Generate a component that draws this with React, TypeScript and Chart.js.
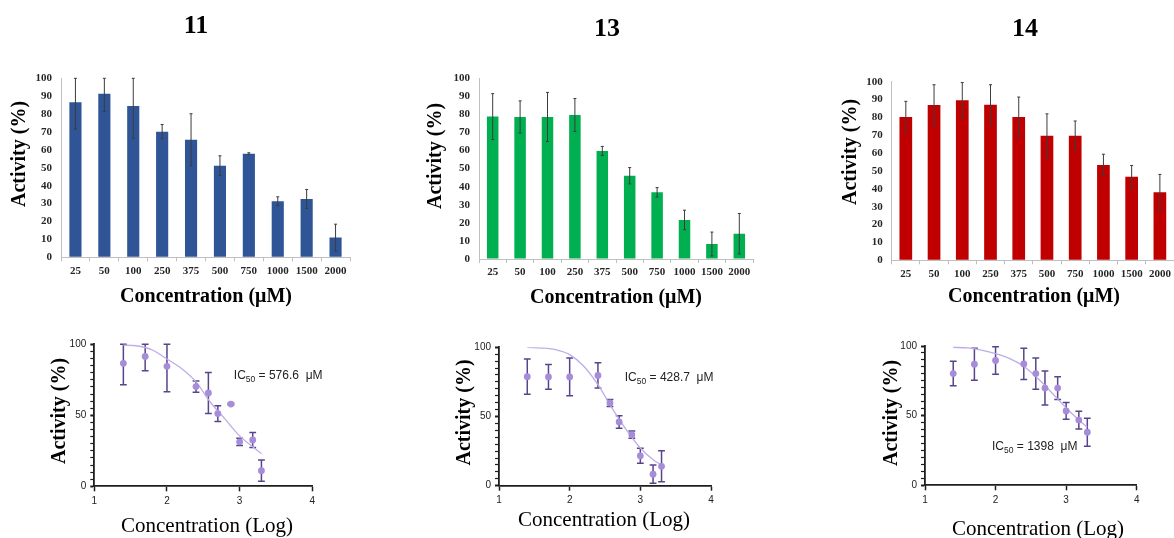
import React, { useEffect, useRef } from 'react';
import { Chart, registerables } from 'chart.js';

Chart.register(...registerables);

// ---------------- DATA ----------------
const compoundNames = ['11', '13', '14'];
const concentrations = ['25', '50', '100', '250', '375', '500', '750', '1000', '1500', '2000'];
const logConcentrations = [1.40, 1.70, 2.00, 2.40, 2.57, 2.70, 2.88, 3.00, 3.18, 3.30];

const activity11 = [86.6, 91.4, 84.5, 70.2, 65.7, 51.2, 57.9, 31.3, 32.6, 11.0];
const sd11 = [15.0, 10.0, 18.0, 4.0, 14.5, 5.5, 0.5, 2.5, 5.3, 7.5];

const activity13 = [78.8, 78.6, 78.6, 79.7, 59.8, 46.1, 36.9, 21.6, 8.3, 14.0];
const sd13 = [12.7, 8.9, 13.6, 9.1, 2.5, 4.5, 2.6, 5.4, 6.6, 11.2];

const activity14 = [80.2, 86.9, 89.6, 87.1, 80.2, 69.8, 69.8, 53.4, 46.8, 38.1];
const sd14 = [8.8, 11.4, 9.9, 11.2, 11.2, 12.2, 8.2, 6.0, 6.3, 10.0];

// fitted dose-response curves
const curveLogX = [1.4, 1.6, 1.8, 2.0, 2.2, 2.4, 2.6, 2.8, 3.0, 3.2, 3.3];
const curve11 = [99.5, 98.8, 96.0, 89.6, 83.0, 73.5, 59.0, 47.3, 35.5, 27.0, 23.0];
const curve13 = [100.0, 99.5, 98.3, 94.7, 86.3, 73.0, 56.0, 40.5, 27.2, 18.0, 15.2];
const curve14 = [99.0, 98.6, 97.0, 94.5, 90.9, 85.4, 76.6, 66.3, 55.5, 46.0, 41.6];

const ic50Values = ['576.6', '428.7', '1398'];

const barTitle = 'Concentration (μM)';
const logTitle = 'Concentration (Log)';
const yTitle = 'Activity (%)';

// ---------------- LAYOUT / STYLE ----------------
const SERIF = "'Liberation Serif', 'Times New Roman', Times, serif";
const SANS = "'Liberation Sans', Arial, Helvetica, sans-serif";

const barPanels = [
  { x: 0, y: 0, w: 400, h: 320, area: [61, 78.3, 350, 257.3], title: [196, 26], yT: [19.5, 154], xT: [206, 297], color: '#2F5597', pct: 0.42 },
  { x: 400, y: 0, w: 410, h: 320, area: [479, 78.3, 753, 259], title: [607, 29], yT: [436, 156], xT: [616, 298], color: '#00B050', pct: 0.42 },
  { x: 810, y: 0, w: 364, h: 320, area: [891.7, 81.7, 1174, 260.3], title: [1025, 29], yT: [851, 152], xT: [1034, 297], color: '#C00000', pct: 0.45 },
];

const logPanels = [
  { x: 0, y: 320, w: 400, h: 218, area: [94.3, 344.3, 312.3, 486.3], yT: [60, 411], xT: [207, 526], ic: [2.92, 75.4] },
  { x: 400, y: 320, w: 410, h: 218, area: [499, 347.3, 711, 485.7], yT: [465, 412.5], xT: [604, 520], ic: [2.78, 75.9] },
  { x: 810, y: 320, w: 364, h: 218, area: [925, 346, 1136.7, 485.3], yT: [891.7, 413], xT: [1038, 529], ic: [1.95, 25.6] },
];

const POINT = 'rgb(167,140,218)';
const ERR_LOG = 'rgb(88,68,140)';
const CURVE = 'rgb(190,172,232)';
const AXIS_DARK = '#1e1e1e';
const AXIS_GRAY = '#bfbfbf';

// ---------------- PLUGINS ----------------
const textPlugin = {
  id: 'panelTexts',
  afterDraw(chart: any, _a: any, opts: any) {
    const items = opts.items || [];
    const ctx = chart.ctx;
    for (let i = 0; i < items.length; i++) {
      const it = items[i];
      ctx.save();
      ctx.translate(it.x, it.y);
      if (it.rotate) ctx.rotate(it.rotate);
      ctx.font = it.font;
      ctx.fillStyle = it.color || '#000';
      ctx.textAlign = 'center';
      ctx.textBaseline = 'middle';
      ctx.fillText(it.text, 0, 0);
      ctx.restore();
    }
  },
};

function drawErrors(chart: any, opts: any) {
  const meta = chart.getDatasetMeta(0);
  const ds = chart.data.datasets[0];
  const yScale = chart.scales.y;
  const ctx = chart.ctx;
  ctx.save();
  ctx.strokeStyle = opts.color;
  ctx.lineWidth = opts.width;
  meta.data.forEach((el: any, i: number) => {
    const raw = ds.data[i];
    const v = typeof raw === 'number' ? raw : raw.y;
    const sd = opts.sd[i];
    const top = yScale.getPixelForValue(Math.min(v + sd, opts.max));
    const bot = yScale.getPixelForValue(Math.max(v - sd, 0));
    const x = el.x;
    const c = opts.cap;
    ctx.beginPath();
    ctx.moveTo(x, top);
    ctx.lineTo(x, bot);
    ctx.moveTo(x - c, top);
    ctx.lineTo(x + c, top);
    ctx.moveTo(x - c, bot);
    ctx.lineTo(x + c, bot);
    ctx.stroke();
  });
  ctx.restore();
}

const errorBarPlugin = {
  id: 'errorBars',
  beforeDatasetsDraw(chart: any, _a: any, opts: any) {
    if (opts.layer === 'below') drawErrors(chart, opts);
  },
  afterDatasetsDraw(chart: any, _a: any, opts: any) {
    if (opts.layer !== 'below') drawErrors(chart, opts);
  },
};

const icPlugin = {
  id: 'icLabel',
  afterDraw(chart: any, _a: any, opts: any) {
    if (!opts.value) return;
    const ctx = chart.ctx;
    const x = chart.scales.x.getPixelForValue(opts.x);
    const y = chart.scales.y.getPixelForValue(opts.y);
    ctx.save();
    ctx.fillStyle = '#222';
    ctx.textAlign = 'left';
    ctx.textBaseline = 'alphabetic';
    ctx.font = `12px ${SANS}`;
    ctx.fillText('IC', x, y);
    let w = ctx.measureText('IC').width;
    ctx.font = `8.5px ${SANS}`;
    ctx.fillText('50', x + w, y + 3);
    w += ctx.measureText('50').width;
    ctx.font = `12px ${SANS}`;
    ctx.fillText(` = ${opts.value}  μM`, x + w, y);
    ctx.restore();
  },
};

// ---------------- CONFIGS ----------------
function barConfig(p: any, values: number[], sds: number[], name: string) {
  const l = p.area[0] - p.x;
  const t = p.area[1] - p.y;
  const r = p.area[2] - p.x;
  const b = p.area[3] - p.y;
  const tickFont = { family: SERIF, size: 11, weight: 'bold' as const };
  return {
    type: 'bar' as const,
    data: {
      labels: concentrations,
      datasets: [
        {
          data: values,
          backgroundColor: p.color,
          borderWidth: 0,
          categoryPercentage: 1,
          barPercentage: p.pct,
        },
      ],
    },
    options: {
      responsive: false,
      animation: false as const,
      devicePixelRatio: 1,
      layout: { padding: { left: 0, top: t, right: p.w - r, bottom: 0 } },
      plugins: {
        legend: { display: false },
        tooltip: { enabled: false },
        errorBars: { sd: sds, color: '#3c3c3c', width: 1, cap: 1.5, max: 100, layer: 'above' },
        panelTexts: {
          items: [
            { text: name, x: p.title[0] - p.x, y: p.title[1] - p.y, font: `bold 26px ${SERIF}` },
            { text: yTitle, x: p.yT[0] - p.x, y: p.yT[1] - p.y, rotate: -Math.PI / 2, font: `bold 20px ${SERIF}` },
            { text: barTitle, x: p.xT[0] - p.x, y: p.xT[1] - p.y, font: `bold 20px ${SERIF}` },
          ],
        },
      },
      scales: {
        x: {
          grid: { display: true, drawOnChartArea: false, drawTicks: true, tickLength: 4, color: AXIS_GRAY, offset: true },
          border: { display: true, color: AXIS_GRAY, width: 1 },
          ticks: { font: tickFont, color: '#262626', padding: 3, maxRotation: 0, autoSkip: false },
          afterFit: (s: any) => { s.height = p.h - b; },
        },
        y: {
          min: 0,
          max: 100,
          ticks: { stepSize: 10, font: tickFont, color: '#262626', padding: 9 },
          grid: { display: true, drawOnChartArea: false, drawTicks: false },
          border: { display: true, color: AXIS_GRAY, width: 1 },
          afterFit: (s: any) => { s.width = l; },
        },
      },
    },
    plugins: [errorBarPlugin, textPlugin],
  };
}

function logConfig(p: any, values: number[], sds: number[], curve: number[], ic: string) {
  const l = p.area[0] - p.x;
  const t = p.area[1] - p.y;
  const r = p.area[2] - p.x;
  const b = p.area[3] - p.y;
  const tickFont = { family: SANS, size: 10 };
  return {
    type: 'scatter' as const,
    data: {
      datasets: [
        {
          data: logConcentrations.map((x, i) => ({ x, y: values[i] })),
          pointRadius: 3.4,
          pointBackgroundColor: POINT,
          pointBorderColor: POINT,
          pointBorderWidth: 0,
          showLine: false,
        },
        {
          data: curveLogX.map((x, i) => ({ x, y: curve[i] })),
          showLine: true,
          pointRadius: 0,
          borderColor: CURVE,
          borderWidth: 1.3,
          cubicInterpolationMode: 'monotone' as const,
          fill: false,
        },
      ],
    },
    options: {
      responsive: false,
      animation: false as const,
      devicePixelRatio: 1,
      layout: { padding: { left: 0, top: t, right: p.w - r, bottom: 0 } },
      plugins: {
        legend: { display: false },
        tooltip: { enabled: false },
        errorBars: { sd: sds, color: ERR_LOG, width: 1.5, cap: 3.4, max: 100, layer: 'below' },
        icLabel: { x: p.ic[0], y: p.ic[1], value: ic },
        panelTexts: {
          items: [
            { text: yTitle, x: p.yT[0] - p.x, y: p.yT[1] - p.y, rotate: -Math.PI / 2, font: `bold 20px ${SERIF}` },
            { text: logTitle, x: p.xT[0] - p.x, y: p.xT[1] - p.y, font: `21px ${SERIF}` },
          ],
        },
      },
      scales: {
        x: {
          type: 'linear' as const,
          min: 1,
          max: 4,
          ticks: { stepSize: 1, font: tickFont, color: '#222', padding: 4 },
          grid: { display: true, drawOnChartArea: false, drawTicks: true, tickLength: 5, color: AXIS_DARK, tickWidth: 1.5 },
          border: { display: true, color: AXIS_DARK, width: 1.8 },
          afterFit: (s: any) => { s.height = p.h - b; },
        },
        y: {
          min: 0,
          max: 100,
          ticks: {
            stepSize: 5,
            autoSkip: false,
            font: tickFont,
            color: '#222',
            padding: 4,
            callback: (v: any) => (Number(v) % 50 === 0 ? String(v) : ''),
          },
          grid: {
            display: true,
            drawOnChartArea: false,
            drawTicks: true,
            tickLength: 4,
            color: AXIS_DARK,
            tickWidth: (c: any) => (c.tick && c.tick.value % 50 === 0 ? 2 : 1.2),
          },
          border: { display: true, color: AXIS_DARK, width: 1.8 },
          afterFit: (s: any) => { s.width = l; },
        },
      },
    },
    plugins: [errorBarPlugin, icPlugin, textPlugin],
  };
}

const allPanels = [...barPanels, ...logPanels];

export default function App() {
  const refs = useRef<(HTMLCanvasElement | null)[]>([]);

  useEffect(() => {
    const values = [activity11, activity13, activity14];
    const sds = [sd11, sd13, sd14];
    const curves = [curve11, curve13, curve14];
    const charts: Chart[] = [];
    barPanels.forEach((p, i) => {
      const c = refs.current[i];
      if (c) charts.push(new Chart(c, barConfig(p, values[i], sds[i], compoundNames[i]) as any));
    });
    logPanels.forEach((p, i) => {
      const c = refs.current[i + 3];
      if (c) charts.push(new Chart(c, logConfig(p, values[i], sds[i], curves[i], ic50Values[i]) as any));
    });
    return () => charts.forEach((ch) => ch.destroy());
  }, []);

  return (
    <div style={{ position: 'absolute', left: 0, top: 0, width: 1174, height: 538, overflow: 'hidden', background: '#fff' }}>
      {allPanels.map((p, i) => (
        <canvas
          key={i}
          ref={(el) => { refs.current[i] = el; }}
          width={p.w}
          height={p.h}
          style={{ position: 'absolute', left: p.x, top: p.y, width: p.w, height: p.h }}
        />
      ))}
    </div>
  );
}
